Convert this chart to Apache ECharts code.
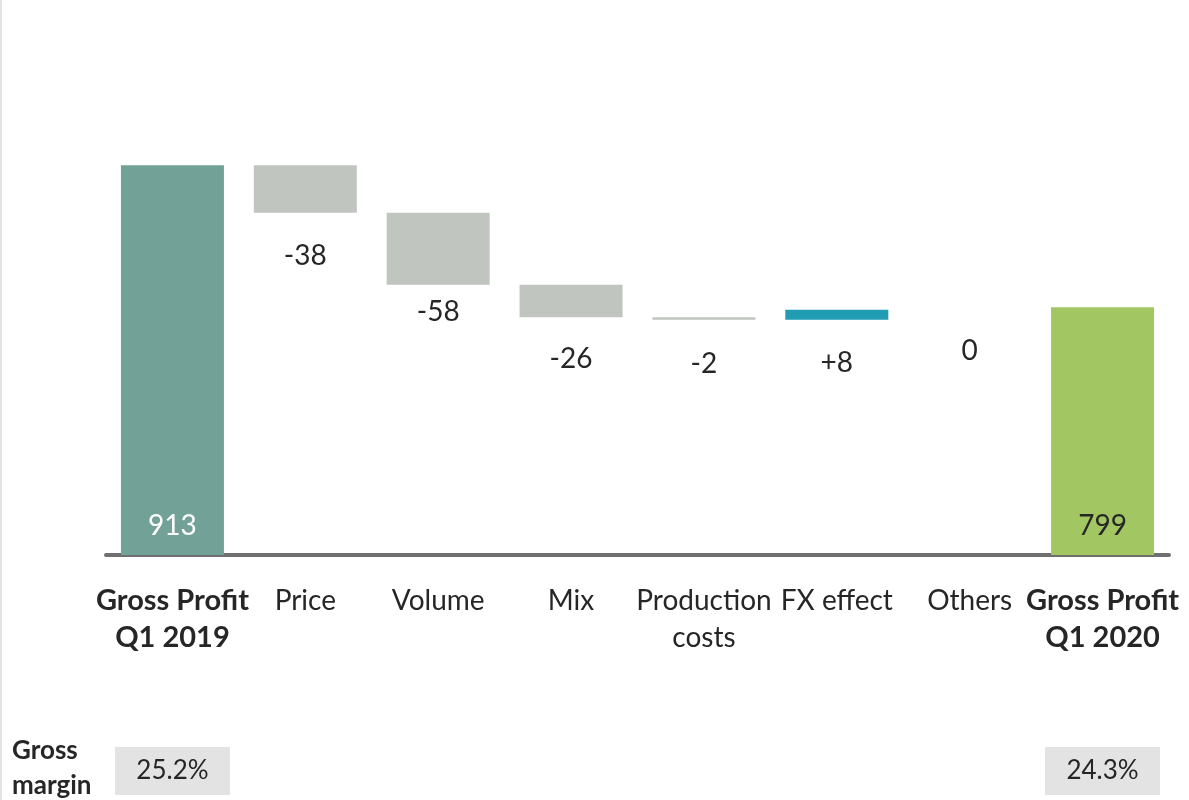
<!DOCTYPE html>
<html>
<head>
<meta charset="utf-8">
<script src="https://cdn.jsdelivr.net/npm/echarts@6/dist/echarts.min.js"></script>
<style>
html,body{margin:0;padding:0;background:#fff;}
#chart{width:1189px;height:800px;}
</style>
</head>
<body>
<div id="chart"></div>
<script>
// ---- data ----
const categories = ['Gross Profit\nQ1 2019', 'Price', 'Volume', 'Mix', 'Production\ncosts', 'FX effect', 'Others', 'Gross Profit\nQ1 2020'];
const startValue = 913;
const deltas = [-38, -58, -26, -2, 8, 0];
const endValue = 799;
const grossMargins = ['25.2%', '', '', '', '', '', '', '24.3%'];
const marginTitle = 'Gross\nmargin';

// ---- style ----
const FONT = 'Lato';
const TEXT = '#262626';
const deltaLabelGap = [29, 13, 28, 30, 29, 27];
const deltaColor = (d) => d > 0 ? '#209cb3' : '#c0c5bf';

// ---- build waterfall ----
const base = [];
const heights = [];
let cum = startValue;
base.push(0); heights.push(startValue);
deltas.forEach((d) => {
  const next = cum + d;
  base.push(Math.min(cum, next));
  heights.push(Math.abs(d));
  cum = next;
});
base.push(0); heights.push(endValue);

const n = categories.length;
const visData = heights.map((h, i) => {
  if (i === 0) {
    return { value: h, itemStyle: { color: '#72a297' },
      label: { show: true, position: 'insideBottom', distance: 15, color: '#ffffff', formatter: String(startValue) } };
  }
  if (i === n - 1) {
    return { value: h, itemStyle: { color: '#a2c762' },
      label: { show: true, position: 'insideBottom', distance: 15, color: TEXT, formatter: String(endValue) } };
  }
  const d = deltas[i - 1];
  return { value: h, itemStyle: { color: deltaColor(d) },
    label: { show: true, position: 'bottom', distance: deltaLabelGap[i - 1], color: TEXT,
      formatter: d > 0 ? '+' + d : String(d) } };
});

const marginData = grossMargins.map((m) => m ? { value: 1, label: { show: true, formatter: m } } : '-');

const chart = echarts.init(document.getElementById('chart'), null, { renderer: 'canvas' });
chart.setOption({
  animation: false,
  backgroundColor: '#ffffff',
  textStyle: { fontFamily: FONT },
  grid: [
    { left: 106, width: 1063, top: 57, height: 498 },
    { left: 106, width: 1063, top: 747, height: 48 }
  ],
  xAxis: [
    {
      type: 'category', data: categories, gridIndex: 0,
      axisLine: { show: true, lineStyle: { color: '#6f6f6f', width: 4 } },
      axisTick: { show: false },
      axisLabel: {
        interval: 0, margin: 27, color: TEXT, fontSize: 29, fontFamily: FONT, lineHeight: 37,
        formatter: (v, i) => {
          const lines = v.split('\n');
          const tag = (i === 0 || i === n - 1) ? 'b' : 'r';
          return lines.map(l => '{' + tag + '|' + l + '}').join('\n');
        },
        rich: {
          b: { fontWeight: 'bold', fontSize: 29, fontFamily: FONT, color: TEXT, lineHeight: 37 },
          r: { fontSize: 28, fontFamily: FONT, color: TEXT, lineHeight: 37 }
        }
      }
    },
    { type: 'category', data: categories, gridIndex: 1, show: false }
  ],
  yAxis: [
    { type: 'value', min: 600, max: 1000, gridIndex: 0, show: false, splitLine: { show: false } },
    { type: 'value', min: 0, max: 1, gridIndex: 1, show: false, splitLine: { show: false } }
  ],
  series: [
    {
      type: 'bar', stack: 'wf', xAxisIndex: 0, yAxisIndex: 0, data: base,
      itemStyle: { color: 'transparent' }, barWidth: 103, silent: true
    },
    {
      type: 'bar', stack: 'wf', xAxisIndex: 0, yAxisIndex: 0, data: visData, barWidth: 103,
      label: { fontSize: 28, fontFamily: FONT }
    },
    {
      type: 'bar', xAxisIndex: 1, yAxisIndex: 1, data: marginData, barWidth: 115,
      itemStyle: { color: '#e3e3e3' },
      label: { show: true, position: 'inside', color: TEXT, fontSize: 26, fontFamily: FONT }
    }
  ],
  graphic: [
    { type: 'rect', left: 0, top: 0, shape: { width: 2, height: 800 }, style: { fill: '#e3e3e3' } },
    { type: 'text', left: 12, top: 733, style: { text: marginTitle, font: 'bold 26px ' + FONT, fill: TEXT, lineHeight: 35 } }
  ]
});
</script>
</body>
</html>
